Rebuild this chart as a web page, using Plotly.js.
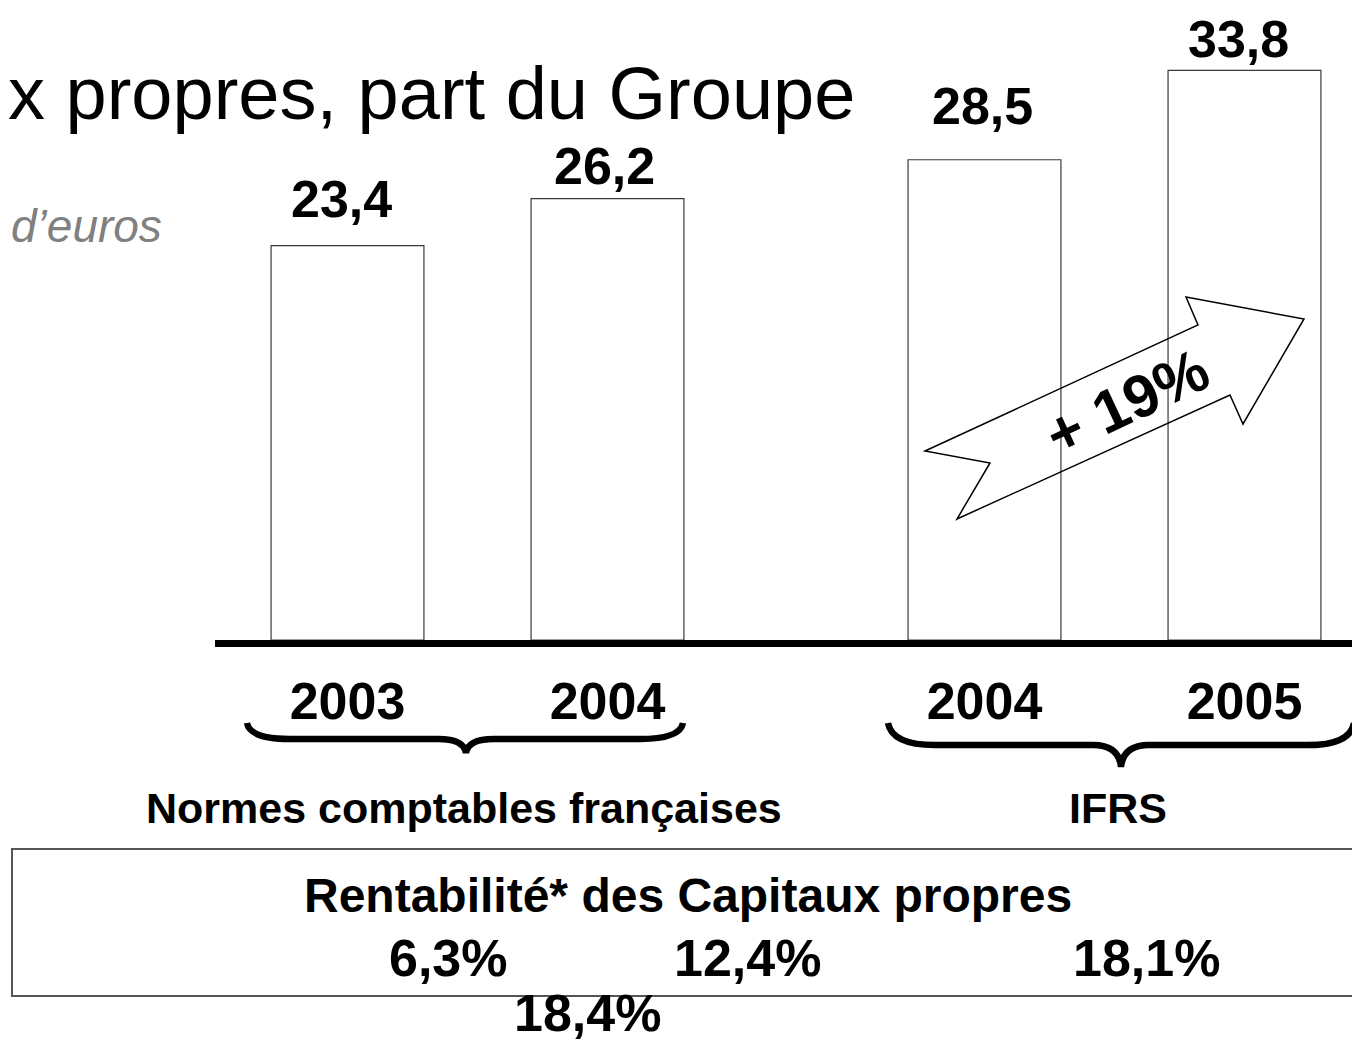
<!DOCTYPE html>
<html>
<head>
<meta charset="utf-8">
<script src="https://cdn.plot.ly/plotly-3.0.1.min.js"></script>
<style>
  html, body { margin: 0; padding: 0; background: #ffffff; }
  #chart { width: 1352px; height: 1043px; }
</style>
</head>
<body>
<div id="chart"></div>
<script>
// ---- Data ----
const years = ["2003", "2004", "2004", "2005"];
const standards = ["Normes comptables françaises", "Normes comptables françaises", "IFRS", "IFRS"];
const equity = [23.4, 26.2, 28.5, 33.8];             // Capitaux propres, part du Groupe (Md€)
const equityLabels = ["23,4", "26,2", "28,5", "33,8"];
const roeLabels = ["6,3%", "12,4%", "18,1%", "18,4%"];
const growthLabel = "+ 19%";
const titleText = "x propres, part du Groupe";
const unitText = "d\u2019euros";
const roeTitle = "Rentabilité* des Capitaux propres";
const groupNames = ["Normes comptables françaises", "IFRS"];

// ---- Layout helpers (styling only) ----
const W = 1352, H = 1043;
const FONT = "Liberation Sans, Arial, sans-serif";
const groupGap = 0.45;                 // extra spacing between the two standards
const groupIndex = standards.map(s => groupNames.indexOf(s));
const xPos = equity.map((_, i) => i + groupIndex[i] * groupGap);

const P = (px, py) => [px / W, 1 - py / H];
const path = pts => pts.map((p, i) => {
  const q = P(p[0], p[1]);
  return (i === 0 ? "M" : "L") + q[0].toFixed(5) + "," + q[1].toFixed(5);
}).join(" ") + " Z";
const qpath = segs => segs.map(s => {
  const cmd = s[0];
  const coords = [];
  for (let k = 1; k < s.length; k += 2) {
    const q = P(s[k], s[k + 1]);
    coords.push(q[0].toFixed(5) + "," + q[1].toFixed(5));
  }
  return cmd + coords.join(" ");
}).join(" ");

// label fine offsets (pixels)
const labelDX = [-6, -3, -2, -6];
const labelDY = [47, 33, 54, 31];

const trace = {
  type: "bar",
  x: xPos,
  y: equity,
  width: 0.588,
  marker: { color: "#ffffff", line: { color: "#3a3a3a", width: 1.2 } },
  hoverinfo: "skip",
  showlegend: false
};

const annotations = [];
equity.forEach((v, i) => {
  annotations.push({
    x: xPos[i], y: v, xref: "x", yref: "y",
    text: "<b>" + equityLabels[i] + "</b>",
    showarrow: false, xanchor: "center", yanchor: "middle",
    xshift: labelDX[i], yshift: labelDY[i],
    font: { family: FONT, size: 52, color: "#000" }
  });
});

function paperText(text, px, py, size, opts) {
  const q = P(px, py);
  return Object.assign({
    x: q[0], y: q[1], xref: "paper", yref: "paper",
    text: text, showarrow: false, xanchor: "center", yanchor: "middle",
    font: { family: FONT, size: size, color: "#000" }
  }, opts || {});
}

annotations.push(paperText(titleText, 857, 93, 74, { xanchor: "right" }));
annotations.push(paperText("<i>" + unitText + "</i>", 164, 226, 46, { xanchor: "right", font: { family: FONT, size: 46, color: "#808080" } }));
annotations.push(paperText("<b>" + groupNames[0] + "</b>", 464, 808, 43));
annotations.push(paperText("<b>" + groupNames[1] + "</b>", 1118, 808, 43));
annotations.push(paperText("<b>" + roeTitle + "</b>", 688, 895, 48));
const roePos = [[448, 958], [747, 958], [1146, 958], [587, 1013]];
roeLabels.forEach((t, i) => annotations.push(paperText("<b>" + t + "</b>", roePos[i][0], roePos[i][1], 52)));
annotations.push(paperText("<b>" + growthLabel + "</b>", 1127, 402, 60, { textangle: -25 }));

const shapes = [
  // growth arrow
  { type: "path", xref: "paper", yref: "paper", layer: "above",
    path: path([[925, 451], [1198, 325], [1186, 297], [1304, 319], [1243, 424], [1230, 395], [957, 519], [990, 463]]),
    fillcolor: "rgba(255,255,255,0)", line: { color: "#000", width: 1.5 } },
  // braces
  { type: "path", xref: "paper", yref: "paper",
    path: qpath([["M", 247, 723], ["Q", 250, 739, 290, 739], ["L", 438, 739], ["Q", 464, 739, 466, 753],
                 ["Q", 468, 739, 494, 739], ["L", 640, 739], ["Q", 680, 739, 683, 723]]),
    line: { color: "#000", width: 6.5 } },
  { type: "path", xref: "paper", yref: "paper",
    path: qpath([["M", 888, 723], ["Q", 892, 745, 935, 745], ["L", 1093, 745], ["Q", 1119, 745, 1121, 767],
                 ["Q", 1123, 745, 1149, 745], ["L", 1308, 745], ["Q", 1350, 745, 1354, 723]]),
    line: { color: "#000", width: 6.5 } },
  // ROE box
  { type: "rect", xref: "paper", yref: "paper",
    x0: P(12, 0)[0], x1: P(1365, 0)[0], y0: P(0, 849)[1], y1: P(0, 996)[1],
    line: { color: "#555", width: 2 }, fillcolor: "rgba(0,0,0,0)" }
];

const layout = {
  width: W, height: H,
  margin: { l: 0, r: 0, t: 0, b: 0, pad: 0 },
  paper_bgcolor: "#ffffff", plot_bgcolor: "#ffffff",
  showlegend: false,
  xaxis: {
    domain: [215 / W, 1],
    range: [-0.5096, 3.8635],
    tickmode: "array", tickvals: xPos, ticktext: years.map(y => "<b>" + y + "</b>"),
    tickfont: { family: FONT, size: 52, color: "#000" },
    ticks: "", showgrid: false, zeroline: false,
    showline: true, linecolor: "#000", linewidth: 7,
    ticklabelstandoff: 10,
    fixedrange: true
  },
  yaxis: {
    domain: [1 - 640 / H, 1],
    range: [0, 640 / 16.85],
    visible: false, showgrid: false, zeroline: false, fixedrange: true
  },
  annotations: annotations,
  shapes: shapes
};

Plotly.newPlot("chart", [trace], layout, { displayModeBar: false, staticPlot: true });
</script>
</body>
</html>
